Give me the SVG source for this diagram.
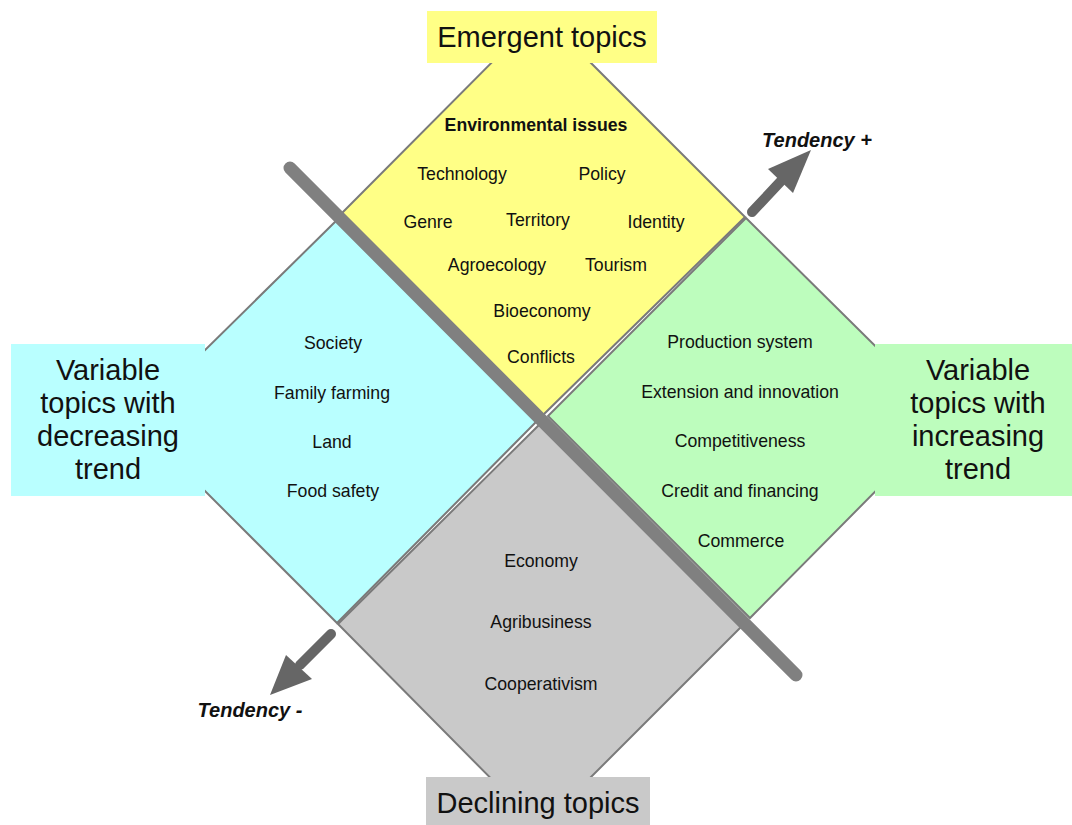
<svg xmlns="http://www.w3.org/2000/svg" width="1072" height="825" viewBox="0 0 1072 825">
<style>
.d{stroke:#7a7a7a;stroke-width:2;stroke-linejoin:miter}
.y{fill:#FFFF86}.c{fill:#B9FFFF}.g{fill:#BDFDBD}.k{fill:#C9C9C9}
text{font-family:"Liberation Sans",Arial,Helvetica,sans-serif;fill:#111;text-anchor:middle}
.t{font-size:17.7px}
.b{font-weight:bold}
.L{font-size:29px}
.T{font-size:20px;font-weight:bold;font-style:italic}
</style>
<rect width="1072" height="825" fill="#ffffff"/>
<g id="emergent">
<polygon class="d y" points="541,13 745,217 543,415 338,217"/>
<rect x="427" y="11" width="230" height="52" fill="#FFFF86"/>
<text class="L" x="542" y="47">Emergent topics</text>
<text class="t b" x="536" y="131">Environmental issues</text>
<text class="t" x="462" y="180">Technology</text>
<text class="t" x="602" y="180">Policy</text>
<text class="t" x="428" y="228">Genre</text>
<text class="t" x="538" y="226">Territory</text>
<text class="t" x="656" y="228">Identity</text>
<text class="t" x="497" y="271">Agroecology</text>
<text class="t" x="616" y="271">Tourism</text>
<text class="t" x="542" y="317">Bioeconomy</text>
<text class="t" x="541" y="363">Conflicts</text>
</g>
<g id="decreasing">
<polygon class="d c" points="338,219 537,421 337,623 134,420"/>
<rect x="11" y="344" width="194" height="152" fill="#B9FFFF"/>
<text class="L" x="108" y="380">Variable</text>
<text class="L" x="108" y="413">topics with</text>
<text class="L" x="108" y="446">decreasing</text>
<text class="L" x="108" y="479">trend</text>
<text class="t" x="333" y="349">Society</text>
<text class="t" x="332" y="399">Family farming</text>
<text class="t" x="332" y="448">Land</text>
<text class="t" x="333" y="497">Food safety</text>
</g>
<g id="increasing">
<polygon class="d g" points="746,218 948,418 750,618 548,416"/>
<rect x="875" y="344" width="197" height="152" fill="#BDFDBD"/>
<text class="L" x="978" y="380">Variable</text>
<text class="L" x="978" y="413">topics with</text>
<text class="L" x="978" y="446">increasing</text>
<text class="L" x="978" y="479">trend</text>
<text class="t" x="740" y="348">Production system</text>
<text class="t" x="740" y="398">Extension and innovation</text>
<text class="t" x="740" y="447">Competitiveness</text>
<text class="t" x="740" y="497">Credit and financing</text>
<text class="t" x="741" y="547">Commerce</text>
</g>
<g id="declining">
<polygon class="d k" points="540,424 742,626 540,828 338,624"/>
<rect x="426" y="777" width="224" height="48" fill="#C9C9C9"/>
<text class="L" x="538" y="813">Declining topics</text>
<text class="t" x="541" y="567">Economy</text>
<text class="t" x="541" y="628">Agribusiness</text>
<text class="t" x="541" y="690">Cooperativism</text>
</g>
<g id="connectors">
<line x1="290" y1="168" x2="796" y2="675" stroke="#808080" stroke-width="13" stroke-linecap="round"/>
<line x1="752" y1="212" x2="782" y2="180" stroke="#666666" stroke-width="10" stroke-linecap="round"/>
<polygon points="811,150 768,169 793,193" fill="#666666"/>
<line x1="331" y1="634" x2="300" y2="665" stroke="#666666" stroke-width="10" stroke-linecap="round"/>
<polygon points="270,695 286,655 312,679" fill="#666666"/>
</g>
<g id="tendency-plus"><text class="T" x="817" y="147">Tendency +</text></g>
<g id="tendency-minus"><text class="T" x="250" y="717">Tendency -</text></g>
</svg>
